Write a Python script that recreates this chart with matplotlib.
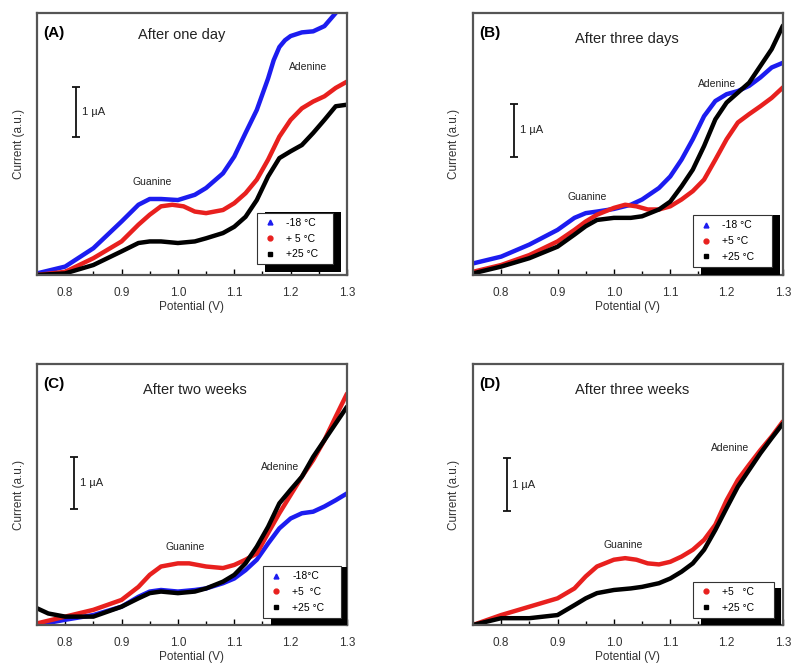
import numpy as np
import matplotlib
matplotlib.use('Agg')
import matplotlib.pyplot as plt
import matplotlib.ticker as tck
from matplotlib.patches import Rectangle
from matplotlib.lines import Line2D

plt.rcParams['font.family'] = ['Liberation Sans', 'DejaVu Sans']

# Potential (V) grid for panel A read-off
xA = [0.75, 0.80, 0.85, 0.90, 0.93, 0.95, 0.97, 1.00, 1.03, 1.05, 1.08, 1.10,
      1.12, 1.14, 1.16, 1.17, 1.18, 1.19, 1.20, 1.22, 1.24, 1.26, 1.28, 1.30]
A_m18 = [0.03, 0.16, 0.51, 1.02, 1.34, 1.45, 1.45, 1.43, 1.53, 1.66, 1.94, 2.26,
         2.71, 3.15, 3.75, 4.10, 4.35, 4.48, 4.56, 4.63, 4.65, 4.75, 5.00, 5.30]
xA_blk = [0.75, 0.80, 0.85, 0.90, 0.93, 0.95, 0.97, 1.00, 1.03, 1.05, 1.08, 1.10,
          1.12, 1.14, 1.16, 1.18, 1.20, 1.22, 1.24, 1.26, 1.28, 1.30]
A_p25 = [0.00, 0.03, 0.19, 0.45, 0.61, 0.64, 0.64, 0.61, 0.64, 0.70, 0.80, 0.92,
         1.11, 1.43, 1.88, 2.23, 2.36, 2.48, 2.71, 2.96, 3.22, 3.25]
xA_red = [0.75, 0.80, 0.85, 0.90, 0.93, 0.95, 0.97, 0.99, 1.01, 1.03, 1.05, 1.08,
          1.10, 1.12, 1.14, 1.16, 1.18, 1.20, 1.22, 1.24, 1.26, 1.28, 1.30]
A_p5 = [0.00, 0.06, 0.32, 0.64, 0.96, 1.15, 1.31, 1.34, 1.31, 1.21, 1.18, 1.24,
        1.37, 1.56, 1.82, 2.20, 2.64, 2.96, 3.18, 3.31, 3.41, 3.57, 3.69]

# panel B
xB = [0.75, 0.80, 0.85, 0.90, 0.93, 0.95, 0.97, 1.00, 1.03, 1.05, 1.08, 1.10,
      1.12, 1.14, 1.16, 1.18, 1.20, 1.22, 1.24, 1.26, 1.28, 1.30]
B_m18 = [0.22, 0.35, 0.58, 0.86, 1.09, 1.18, 1.21, 1.26, 1.34, 1.44, 1.66, 1.88,
         2.20, 2.59, 3.03, 3.32, 3.45, 3.51, 3.61, 3.77, 3.96, 4.05]
B_p25 = [0.03, 0.16, 0.32, 0.54, 0.77, 0.93, 1.05, 1.09, 1.09, 1.12, 1.25, 1.40,
         1.69, 2.01, 2.46, 2.97, 3.29, 3.48, 3.67, 3.99, 4.31, 4.76]
xB_red = [0.75, 0.80, 0.85, 0.90, 0.93, 0.95, 0.97, 1.00, 1.02, 1.04, 1.06, 1.08,
          1.10, 1.12, 1.14, 1.16, 1.18, 1.20, 1.22, 1.24, 1.26, 1.28, 1.30]
B_p5 = [0.06, 0.19, 0.38, 0.64, 0.86, 1.02, 1.15, 1.28, 1.34, 1.31, 1.25, 1.25,
        1.31, 1.44, 1.60, 1.82, 2.20, 2.59, 2.91, 3.07, 3.22, 3.38, 3.58]

# panel C
xC = [0.75, 0.80, 0.85, 0.90, 0.93, 0.95, 0.97, 1.00, 1.03, 1.05, 1.08, 1.10,
      1.12, 1.14, 1.16, 1.18, 1.20, 1.22, 1.24, 1.26, 1.28, 1.30]
C_m18 = [0.00, 0.10, 0.19, 0.35, 0.54, 0.64, 0.67, 0.64, 0.67, 0.70, 0.80, 0.89,
         1.05, 1.25, 1.56, 1.85, 2.04, 2.14, 2.17, 2.27, 2.39, 2.52]
xC_red = [0.75, 0.80, 0.85, 0.90, 0.93, 0.95, 0.97, 1.00, 1.02, 1.05, 1.08, 1.10,
          1.12, 1.14, 1.16, 1.18, 1.20, 1.22, 1.24, 1.26, 1.28, 1.30]
C_p5 = [0.03, 0.16, 0.29, 0.48, 0.73, 0.96, 1.12, 1.18, 1.18, 1.12, 1.09, 1.15,
        1.25, 1.37, 1.76, 2.14, 2.49, 2.84, 3.16, 3.54, 3.99, 4.43]
xC_blk = [0.75, 0.77, 0.80, 0.85, 0.90, 0.93, 0.95, 0.97, 1.00, 1.03, 1.05, 1.08,
          1.10, 1.12, 1.14, 1.16, 1.18, 1.20, 1.22, 1.24, 1.26, 1.28, 1.30]
C_p25 = [0.32, 0.22, 0.16, 0.16, 0.35, 0.51, 0.61, 0.64, 0.61, 0.64, 0.70, 0.83,
         0.96, 1.18, 1.50, 1.88, 2.33, 2.59, 2.84, 3.22, 3.54, 3.86, 4.18]

# panel D
xD_red = [0.75, 0.80, 0.85, 0.90, 0.93, 0.95, 0.97, 1.00, 1.02, 1.04, 1.06, 1.08,
          1.10, 1.12, 1.14, 1.16, 1.18, 1.20, 1.22, 1.24, 1.26, 1.28, 1.30]
D_p5 = [0.00, 0.19, 0.35, 0.51, 0.70, 0.93, 1.12, 1.25, 1.28, 1.25, 1.18, 1.16,
        1.21, 1.31, 1.44, 1.63, 1.92, 2.39, 2.78, 3.07, 3.35, 3.61, 3.90]
xD = [0.75, 0.80, 0.85, 0.90, 0.93, 0.95, 0.97, 1.00, 1.03, 1.05, 1.08, 1.10,
      1.12, 1.14, 1.16, 1.18, 1.20, 1.22, 1.24, 1.26, 1.28, 1.30]
D_p25 = [0.00, 0.13, 0.13, 0.19, 0.38, 0.51, 0.61, 0.67, 0.70, 0.73, 0.80, 0.89,
         1.02, 1.18, 1.44, 1.82, 2.24, 2.65, 2.97, 3.29, 3.58, 3.86]

BLUE = '#1c1cf0'
RED = '#e8201e'
BLACK = '#000000'

fig = plt.figure(figsize=(7.94, 6.7), dpi=100)
axA = fig.add_axes([0.0466, 0.5896, 0.3904, 0.391])
axB = fig.add_axes([0.5957, 0.5896, 0.3904, 0.391])
axC = fig.add_axes([0.0466, 0.0672, 0.3904, 0.3896])
axD = fig.add_axes([0.5957, 0.0672, 0.3904, 0.3896])

panels = [
    (axA, [(xA, A_m18, BLUE, '^', '-18 °C'), (xA_red, A_p5, RED, 'o', '+ 5 °C'),
           (xA_blk, A_p25, BLACK, 's', '+25 °C')],
     '(A)', 'After one day', (1.007, 4.58), (1.231, 3.97), (0.954, 1.77),
     (0.819, 2.63, 3.59), (0.71, 0.04, 0.245, 0.23)),
    (axB, [(xB, B_m18, BLUE, '^', '-18 °C'), (xB_red, B_p5, RED, 'o', '+5 °C'),
           (xB, B_p25, BLACK, 's', '+25 °C')],
     '(B)', 'After three days', (1.023, 4.50), (1.183, 3.64), (0.952, 1.49),
     (0.823, 2.26, 3.26), (0.71, 0.03, 0.255, 0.23)),
    (axC, [(xC, C_m18, BLUE, '^', '-18°C'), (xC_red, C_p5, RED, 'o', '+5  °C'),
           (xC_blk, C_p25, BLACK, 's', '+25 °C')],
     '(C)', 'After two weeks', (1.030, 4.50), (1.181, 3.03), (1.013, 1.49),
     (0.816, 2.22, 3.22), (0.73, 0.027, 0.25, 0.225)),
    (axD, [(xD_red, D_p5, RED, 'o', '+5   °C'), (xD, D_p25, BLACK, 's', '+25 °C')],
     '(D)', 'After three weeks', (1.032, 4.50), (1.206, 3.39), (1.016, 1.53),
     (0.810, 2.18, 3.20), (0.71, 0.027, 0.26, 0.145)),
]

for ax, series, tag, title, tpos, apos, gpos, bar, lbox in panels:
    handles = []
    for x, y, c, m, lab in series:
        ax.plot(x, y, color=c, lw=3.2, solid_capstyle='round',
                solid_joinstyle='round')
        handles.append(Line2D([], [], ls='none', marker=m, color=c, ms=3.5, label=lab))
    ax.set_xlim(0.75, 1.3)
    ax.set_ylim(0, 5)
    ax.set_yticks([])
    ax.xaxis.set_major_locator(tck.MultipleLocator(0.1))
    ax.xaxis.set_minor_locator(tck.MultipleLocator(0.05))
    ax.xaxis.set_major_formatter(tck.FormatStrFormatter('%.1f'))
    ax.tick_params(axis='x', which='both', direction='in', top=False, length=4,
                   width=1, labelsize=8.5, labelcolor='#333333', pad=9)
    ax.tick_params(axis='x', which='minor', length=3)
    for s in ax.spines.values():
        s.set_color('#555555')
        s.set_linewidth(1.6)
    ax.set_xlabel('Potential (V)', fontsize=8.5, color='#333333', labelpad=1)
    ax.set_ylabel('Current (a.u.)', fontsize=8.5, color='#333333', labelpad=9)

    ax.text(0.02, 0.925, tag, transform=ax.transAxes, fontsize=11,
            fontweight='bold', va='center', ha='left')
    ax.text(tpos[0], tpos[1], title, fontsize=10.5, ha='center', va='center',
            color='#222222')
    ax.text(apos[0], apos[1], 'Adenine', fontsize=7.5, ha='center', va='center',
            color='#222222')
    ax.text(gpos[0], gpos[1], 'Guanine', fontsize=7.5, ha='center', va='center',
            color='#222222')
    # 1 uA scale bar
    ax.errorbar([bar[0]], [(bar[1] + bar[2]) / 2], yerr=[(bar[2] - bar[1]) / 2],
                color='#111111', capsize=3, elinewidth=1.3, capthick=1.3)
    ax.text(bar[0] + 0.01, (bar[1] + bar[2]) / 2, '1 µA', fontsize=8,
            va='center', ha='left', color='#222222')

    lx, ly, lw, lh = lbox
    leg = ax.legend(handles=handles, loc='lower left', bbox_to_anchor=(lx, ly, lw, lh),
                    mode='expand', fontsize=7.5, frameon=True, fancybox=False,
                    edgecolor='#333333', facecolor='white', framealpha=1,
                    borderaxespad=0, handletextpad=0.8,
                    handlelength=1.5, labelspacing=0.55, borderpad=0.5)
    leg.get_frame().set_linewidth(0.8)
    leg.set_zorder(6)
    # hard black drop shadow to the lower right of the legend box
    ax.add_patch(Rectangle((lx + 0.025, ly - 0.03), lw, lh, transform=ax.transAxes,
                           facecolor='black', edgecolor='none', zorder=5,
                           clip_on=True))

fig.savefig('out.png', dpi=100)
